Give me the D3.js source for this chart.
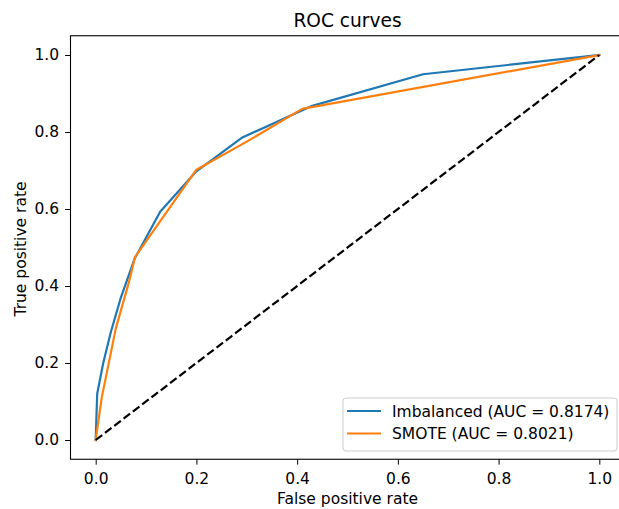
<!DOCTYPE html>
<html>
<head>
<meta charset="utf-8">
<script src="https://cdn.jsdelivr.net/npm/d3@7"></script>
<style>
  html, body { margin: 0; padding: 0; background: #fff; }
  svg { display: block; font-family: "DejaVu Sans", sans-serif; }
</style>
</head>
<body>
<svg id="chart" width="619" height="509"></svg>
<script>
// ROC curve points (false positive rate, true positive rate)
const imbalancedFpr = [0, 0.003, 0.015, 0.03, 0.05, 0.077, 0.128, 0.2, 0.29, 0.43, 0.65, 1];
const imbalancedTpr = [0, 0.12, 0.2, 0.28, 0.37, 0.47, 0.593, 0.698, 0.785, 0.868, 0.95, 1];
const smoteFpr = [0, 0.012, 0.04, 0.066, 0.078, 0.2, 0.3, 0.41, 1];
const smoteTpr = [0, 0.11, 0.29, 0.41, 0.475, 0.702, 0.775, 0.86, 1];
const chanceLine = [0, 1];

const seriesNames = ["Imbalanced (AUC = 0.8174)", "SMOTE (AUC = 0.8021)"];
const seriesColors = ["#1f77b4", "#ff7f0e"];
const tickValues = [0, 0.2, 0.4, 0.6, 0.8, 1.0];

const FONT = 15.5;
const svg = d3.select("#chart");
const plotLeft = 70.5, plotRight = 624.5, plotTop = 35.75, plotBottom = 459.25;

const x = d3.scaleLinear().domain([-0.05, 1.05]).range([plotLeft, plotRight]);
const y = d3.scaleLinear().domain([-0.05, 1.05]).range([plotBottom, plotTop]);

const plot = svg.append("g");
const line = d3.line().x(d => x(d[0])).y(d => y(d[1]));

const series = [
  d3.zip(imbalancedFpr, imbalancedTpr),
  d3.zip(smoteFpr, smoteTpr)
];

series.forEach((pts, i) => {
  plot.append("path")
    .attr("d", line(pts))
    .attr("fill", "none")
    .attr("stroke", seriesColors[i])
    .attr("stroke-width", 2.2)
    .attr("stroke-linejoin", "round")
    .attr("stroke-linecap", "square");
});

// chance diagonal
plot.append("path")
  .attr("d", line(d3.zip(chanceLine, chanceLine)))
  .attr("fill", "none")
  .attr("stroke", "#000")
  .attr("stroke-width", 2.2)
  .attr("stroke-dasharray", "8.2,3.5");

// axes
const fmt = d3.format(".1f");
const xAxis = svg.append("g")
  .attr("transform", `translate(0,${plotBottom})`)
  .call(d3.axisBottom(x).tickValues(tickValues).tickFormat(fmt).tickSize(5.4));
xAxis.selectAll("text").attr("y", 24.5).attr("dy", null);

const yAxis = svg.append("g")
  .attr("transform", `translate(${plotLeft},0)`)
  .call(d3.axisLeft(y).tickValues(tickValues).tickFormat(fmt).tickSize(5.4).tickPadding(6));

[xAxis, yAxis].forEach(g => {
  g.select(".domain").remove();
  g.selectAll("text").attr("font-size", FONT).attr("font-family", "DejaVu Sans").attr("fill", "#000");
  g.selectAll("line").attr("stroke", "#000").attr("stroke-width", 1);
});

// frame
svg.append("rect")
  .attr("x", plotLeft).attr("y", plotTop)
  .attr("width", plotRight - plotLeft).attr("height", plotBottom - plotTop)
  .attr("fill", "none").attr("stroke", "#000").attr("stroke-width", 1.1);

// title and labels
svg.append("text")
  .attr("x", (plotLeft + plotRight) / 2).attr("y", 27)
  .attr("text-anchor", "middle").attr("font-size", FONT * 1.2)
  .text("ROC curves");

svg.append("text")
  .attr("x", (plotLeft + plotRight) / 2).attr("y", 503.5)
  .attr("text-anchor", "middle").attr("font-size", FONT)
  .text("False positive rate");

svg.append("text")
  .attr("transform", `translate(25.5,${(plotTop + plotBottom) / 2 + 1.5}) rotate(-90)`)
  .attr("text-anchor", "middle").attr("font-size", FONT)
  .text("True positive rate");

// legend
const lg = svg.append("g").attr("transform", "translate(343,398)");
lg.append("rect")
  .attr("width", 274).attr("height", 53)
  .attr("rx", 3).attr("ry", 3)
  .attr("fill", "#fff").attr("fill-opacity", 0.8)
  .attr("stroke", "#ccc").attr("stroke-width", 1);

seriesNames.forEach((name, i) => {
  const cy = 13 + i * 22.5;
  lg.append("line")
    .attr("x1", 4).attr("x2", 38)
    .attr("y1", cy).attr("y2", cy)
    .attr("stroke", seriesColors[i]).attr("stroke-width", 2.2);
  lg.append("text")
    .attr("x", 49).attr("y", cy + 5.6)
    .attr("font-size", FONT)
    .text(name);
});
</script>
</body>
</html>
